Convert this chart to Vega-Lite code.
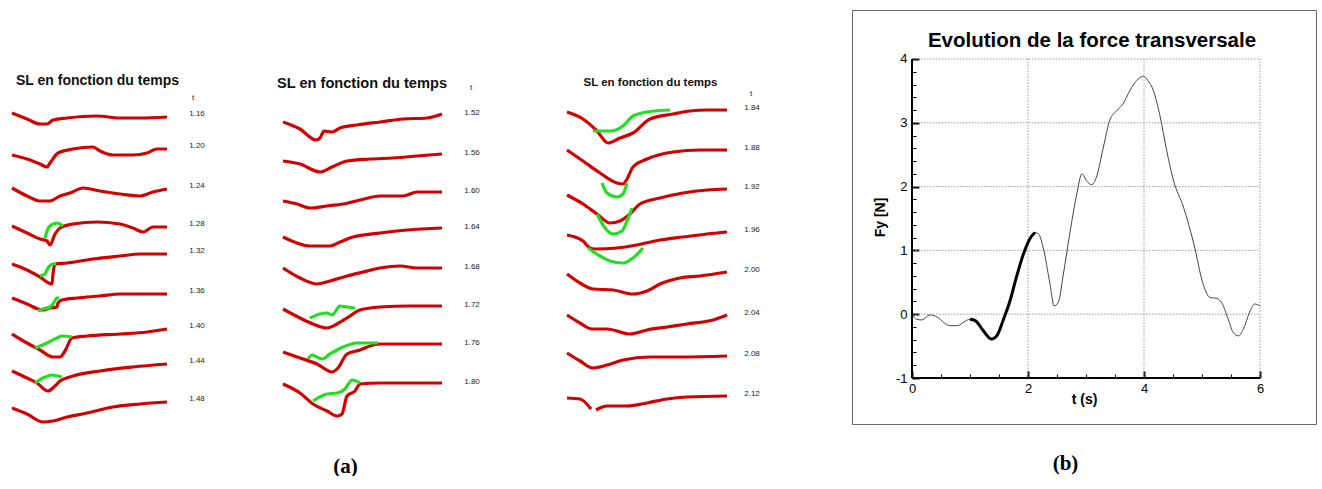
{
"$schema":"https://vega.github.io/schema/vega-lite/v6.json",
"padding":{"left":0,"top":9,"right":0,"bottom":0},
"background":"white",
"config":{"view":{"stroke":null},"font":"Liberation Sans"},
"datasets":{
"sl":[
{"p":1,"t":"1.16","s":"1.16r","c":"r","x":0,"z":112},{"p":1,"t":"1.16","s":"1.16r","c":"r","x":15,"z":118},{"p":1,"t":"1.16","s":"1.16r","c":"r","x":28,"z":123},{"p":1,"t":"1.16","s":"1.16r","c":"r","x":35,"z":123},{"p":1,"t":"1.16","s":"1.16r","c":"r","x":41,"z":119},{"p":1,"t":"1.16","s":"1.16r","c":"r","x":55,"z":117},{"p":1,"t":"1.16","s":"1.16r","c":"r","x":85,"z":115},{"p":1,"t":"1.16","s":"1.16r","c":"r","x":108,"z":117},{"p":1,"t":"1.16","s":"1.16r","c":"r","x":128,"z":117},{"p":1,"t":"1.16","s":"1.16r","c":"r","x":155,"z":116},
{"p":1,"t":"1.20","s":"1.20r","c":"r","x":0,"z":154},{"p":1,"t":"1.20","s":"1.20r","c":"r","x":15,"z":158},{"p":1,"t":"1.20","s":"1.20r","c":"r","x":28,"z":163},{"p":1,"t":"1.20","s":"1.20r","c":"r","x":35,"z":166},{"p":1,"t":"1.20","s":"1.20r","c":"r","x":38,"z":162},{"p":1,"t":"1.20","s":"1.20r","c":"r","x":46,"z":152},{"p":1,"t":"1.20","s":"1.20r","c":"r","x":61,"z":148},{"p":1,"t":"1.20","s":"1.20r","c":"r","x":81,"z":146},{"p":1,"t":"1.20","s":"1.20r","c":"r","x":88,"z":150},{"p":1,"t":"1.20","s":"1.20r","c":"r","x":101,"z":154},{"p":1,"t":"1.20","s":"1.20r","c":"r","x":121,"z":154},{"p":1,"t":"1.20","s":"1.20r","c":"r","x":135,"z":152},{"p":1,"t":"1.20","s":"1.20r","c":"r","x":145,"z":148},{"p":1,"t":"1.20","s":"1.20r","c":"r","x":155,"z":148},
{"p":1,"t":"1.24","s":"1.24r","c":"r","x":0,"z":187},{"p":1,"t":"1.24","s":"1.24r","c":"r","x":15,"z":195},{"p":1,"t":"1.24","s":"1.24r","c":"r","x":28,"z":200},{"p":1,"t":"1.24","s":"1.24r","c":"r","x":38,"z":200},{"p":1,"t":"1.24","s":"1.24r","c":"r","x":48,"z":195},{"p":1,"t":"1.24","s":"1.24r","c":"r","x":58,"z":192},{"p":1,"t":"1.24","s":"1.24r","c":"r","x":71,"z":187},{"p":1,"t":"1.24","s":"1.24r","c":"r","x":88,"z":190},{"p":1,"t":"1.24","s":"1.24r","c":"r","x":108,"z":193},{"p":1,"t":"1.24","s":"1.24r","c":"r","x":128,"z":195},{"p":1,"t":"1.24","s":"1.24r","c":"r","x":141,"z":191},{"p":1,"t":"1.24","s":"1.24r","c":"r","x":155,"z":188},
{"p":1,"t":"1.28","s":"1.28r","c":"r","x":0,"z":225},{"p":1,"t":"1.28","s":"1.28r","c":"r","x":15,"z":232},{"p":1,"t":"1.28","s":"1.28r","c":"r","x":28,"z":238},{"p":1,"t":"1.28","s":"1.28r","c":"r","x":35,"z":240},{"p":1,"t":"1.28","s":"1.28r","c":"r","x":38,"z":244},{"p":1,"t":"1.28","s":"1.28r","c":"r","x":43,"z":233},{"p":1,"t":"1.28","s":"1.28r","c":"r","x":48,"z":227},{"p":1,"t":"1.28","s":"1.28r","c":"r","x":61,"z":223},{"p":1,"t":"1.28","s":"1.28r","c":"r","x":85,"z":221},{"p":1,"t":"1.28","s":"1.28r","c":"r","x":108,"z":223},{"p":1,"t":"1.28","s":"1.28r","c":"r","x":121,"z":227},{"p":1,"t":"1.28","s":"1.28r","c":"r","x":131,"z":231},{"p":1,"t":"1.28","s":"1.28r","c":"r","x":141,"z":226},{"p":1,"t":"1.28","s":"1.28r","c":"r","x":155,"z":226},
{"p":1,"t":"1.28","s":"1.28g","c":"g","x":33,"z":237},{"p":1,"t":"1.28","s":"1.28g","c":"g","x":35,"z":230},{"p":1,"t":"1.28","s":"1.28g","c":"g","x":38,"z":225},{"p":1,"t":"1.28","s":"1.28g","c":"g","x":45,"z":222},{"p":1,"t":"1.28","s":"1.28g","c":"g","x":51,"z":225},
{"p":1,"t":"1.32","s":"1.32r","c":"r","x":0,"z":263},{"p":1,"t":"1.32","s":"1.32r","c":"r","x":15,"z":269},{"p":1,"t":"1.32","s":"1.32r","c":"r","x":28,"z":276},{"p":1,"t":"1.32","s":"1.32r","c":"r","x":40,"z":283},{"p":1,"t":"1.32","s":"1.32r","c":"r","x":41,"z":273},{"p":1,"t":"1.32","s":"1.32r","c":"r","x":43,"z":263},{"p":1,"t":"1.32","s":"1.32r","c":"r","x":55,"z":262},{"p":1,"t":"1.32","s":"1.32r","c":"r","x":81,"z":258},{"p":1,"t":"1.32","s":"1.32r","c":"r","x":108,"z":255},{"p":1,"t":"1.32","s":"1.32r","c":"r","x":128,"z":253},{"p":1,"t":"1.32","s":"1.32r","c":"r","x":155,"z":253},
{"p":1,"t":"1.32","s":"1.32g","c":"g","x":28,"z":275},{"p":1,"t":"1.32","s":"1.32g","c":"g","x":33,"z":273},{"p":1,"t":"1.32","s":"1.32g","c":"g","x":36,"z":267},{"p":1,"t":"1.32","s":"1.32g","c":"g","x":41,"z":263},{"p":1,"t":"1.32","s":"1.32g","c":"g","x":44,"z":263},
{"p":1,"t":"1.36","s":"1.36r","c":"r","x":0,"z":297},{"p":1,"t":"1.36","s":"1.36r","c":"r","x":15,"z":303},{"p":1,"t":"1.36","s":"1.36r","c":"r","x":26,"z":308},{"p":1,"t":"1.36","s":"1.36r","c":"r","x":30,"z":309},{"p":1,"t":"1.36","s":"1.36r","c":"r","x":38,"z":307},{"p":1,"t":"1.36","s":"1.36r","c":"r","x":45,"z":306},{"p":1,"t":"1.36","s":"1.36r","c":"r","x":46,"z":302},{"p":1,"t":"1.36","s":"1.36r","c":"r","x":50,"z":299},{"p":1,"t":"1.36","s":"1.36r","c":"r","x":65,"z":297},{"p":1,"t":"1.36","s":"1.36r","c":"r","x":88,"z":295},{"p":1,"t":"1.36","s":"1.36r","c":"r","x":108,"z":293},{"p":1,"t":"1.36","s":"1.36r","c":"r","x":128,"z":293},{"p":1,"t":"1.36","s":"1.36r","c":"r","x":155,"z":293},
{"p":1,"t":"1.36","s":"1.36g","c":"g","x":26,"z":310},{"p":1,"t":"1.36","s":"1.36g","c":"g","x":31,"z":308},{"p":1,"t":"1.36","s":"1.36g","c":"g","x":38,"z":306},{"p":1,"t":"1.36","s":"1.36g","c":"g","x":41,"z":303},{"p":1,"t":"1.36","s":"1.36g","c":"g","x":45,"z":297},{"p":1,"t":"1.36","s":"1.36g","c":"g","x":47,"z":297},
{"p":1,"t":"1.40","s":"1.40r","c":"r","x":0,"z":333},{"p":1,"t":"1.40","s":"1.40r","c":"r","x":15,"z":342},{"p":1,"t":"1.40","s":"1.40r","c":"r","x":28,"z":349},{"p":1,"t":"1.40","s":"1.40r","c":"r","x":41,"z":356},{"p":1,"t":"1.40","s":"1.40r","c":"r","x":48,"z":356},{"p":1,"t":"1.40","s":"1.40r","c":"r","x":53,"z":350},{"p":1,"t":"1.40","s":"1.40r","c":"r","x":60,"z":337},{"p":1,"t":"1.40","s":"1.40r","c":"r","x":75,"z":335},{"p":1,"t":"1.40","s":"1.40r","c":"r","x":108,"z":333},{"p":1,"t":"1.40","s":"1.40r","c":"r","x":135,"z":331},{"p":1,"t":"1.40","s":"1.40r","c":"r","x":155,"z":328},
{"p":1,"t":"1.40","s":"1.40g","c":"g","x":23,"z":347},{"p":1,"t":"1.40","s":"1.40g","c":"g","x":35,"z":342},{"p":1,"t":"1.40","s":"1.40g","c":"g","x":45,"z":337},{"p":1,"t":"1.40","s":"1.40g","c":"g","x":50,"z":335},{"p":1,"t":"1.40","s":"1.40g","c":"g","x":60,"z":336},
{"p":1,"t":"1.44","s":"1.44r","c":"r","x":0,"z":370},{"p":1,"t":"1.44","s":"1.44r","c":"r","x":15,"z":377},{"p":1,"t":"1.44","s":"1.44r","c":"r","x":25,"z":382},{"p":1,"t":"1.44","s":"1.44r","c":"r","x":36,"z":390},{"p":1,"t":"1.44","s":"1.44r","c":"r","x":43,"z":385},{"p":1,"t":"1.44","s":"1.44r","c":"r","x":48,"z":380},{"p":1,"t":"1.44","s":"1.44r","c":"r","x":61,"z":375},{"p":1,"t":"1.44","s":"1.44r","c":"r","x":88,"z":370},{"p":1,"t":"1.44","s":"1.44r","c":"r","x":121,"z":366},{"p":1,"t":"1.44","s":"1.44r","c":"r","x":155,"z":363},
{"p":1,"t":"1.44","s":"1.44g","c":"g","x":23,"z":382},{"p":1,"t":"1.44","s":"1.44g","c":"g","x":31,"z":377},{"p":1,"t":"1.44","s":"1.44g","c":"g","x":40,"z":374},{"p":1,"t":"1.44","s":"1.44g","c":"g","x":46,"z":375},{"p":1,"t":"1.44","s":"1.44g","c":"g","x":50,"z":376},
{"p":1,"t":"1.48","s":"1.48r","c":"r","x":0,"z":407},{"p":1,"t":"1.48","s":"1.48r","c":"r","x":15,"z":413},{"p":1,"t":"1.48","s":"1.48r","c":"r","x":31,"z":421},{"p":1,"t":"1.48","s":"1.48r","c":"r","x":41,"z":420},{"p":1,"t":"1.48","s":"1.48r","c":"r","x":55,"z":416},{"p":1,"t":"1.48","s":"1.48r","c":"r","x":75,"z":412},{"p":1,"t":"1.48","s":"1.48r","c":"r","x":101,"z":406},{"p":1,"t":"1.48","s":"1.48r","c":"r","x":128,"z":403},{"p":1,"t":"1.48","s":"1.48r","c":"r","x":155,"z":401},
{"p":2,"t":"1.52","s":"1.52r","c":"r","x":0,"z":121},{"p":2,"t":"1.52","s":"1.52r","c":"r","x":17,"z":128},{"p":2,"t":"1.52","s":"1.52r","c":"r","x":33,"z":139},{"p":2,"t":"1.52","s":"1.52r","c":"r","x":37,"z":137},{"p":2,"t":"1.52","s":"1.52r","c":"r","x":41,"z":130},{"p":2,"t":"1.52","s":"1.52r","c":"r","x":49,"z":131},{"p":2,"t":"1.52","s":"1.52r","c":"r","x":57,"z":127},{"p":2,"t":"1.52","s":"1.52r","c":"r","x":74,"z":124},{"p":2,"t":"1.52","s":"1.52r","c":"r","x":97,"z":121},{"p":2,"t":"1.52","s":"1.52r","c":"r","x":120,"z":118},{"p":2,"t":"1.52","s":"1.52r","c":"r","x":144,"z":117},{"p":2,"t":"1.52","s":"1.52r","c":"r","x":159,"z":113},
{"p":2,"t":"1.56","s":"1.56r","c":"r","x":0,"z":160},{"p":2,"t":"1.56","s":"1.56r","c":"r","x":17,"z":163},{"p":2,"t":"1.56","s":"1.56r","c":"r","x":37,"z":171},{"p":2,"t":"1.56","s":"1.56r","c":"r","x":49,"z":166},{"p":2,"t":"1.56","s":"1.56r","c":"r","x":64,"z":160},{"p":2,"t":"1.56","s":"1.56r","c":"r","x":87,"z":158},{"p":2,"t":"1.56","s":"1.56r","c":"r","x":110,"z":157},{"p":2,"t":"1.56","s":"1.56r","c":"r","x":134,"z":155},{"p":2,"t":"1.56","s":"1.56r","c":"r","x":159,"z":153},
{"p":2,"t":"1.60","s":"1.60r","c":"r","x":0,"z":200},{"p":2,"t":"1.60","s":"1.60r","c":"r","x":14,"z":203},{"p":2,"t":"1.60","s":"1.60r","c":"r","x":27,"z":207},{"p":2,"t":"1.60","s":"1.60r","c":"r","x":44,"z":205},{"p":2,"t":"1.60","s":"1.60r","c":"r","x":60,"z":203},{"p":2,"t":"1.60","s":"1.60r","c":"r","x":77,"z":199},{"p":2,"t":"1.60","s":"1.60r","c":"r","x":97,"z":195},{"p":2,"t":"1.60","s":"1.60r","c":"r","x":120,"z":195},{"p":2,"t":"1.60","s":"1.60r","c":"r","x":134,"z":191},{"p":2,"t":"1.60","s":"1.60r","c":"r","x":159,"z":191},
{"p":2,"t":"1.64","s":"1.64r","c":"r","x":0,"z":236},{"p":2,"t":"1.64","s":"1.64r","c":"r","x":14,"z":242},{"p":2,"t":"1.64","s":"1.64r","c":"r","x":27,"z":245},{"p":2,"t":"1.64","s":"1.64r","c":"r","x":47,"z":245},{"p":2,"t":"1.64","s":"1.64r","c":"r","x":57,"z":241},{"p":2,"t":"1.64","s":"1.64r","c":"r","x":70,"z":236},{"p":2,"t":"1.64","s":"1.64r","c":"r","x":97,"z":232},{"p":2,"t":"1.64","s":"1.64r","c":"r","x":124,"z":229},{"p":2,"t":"1.64","s":"1.64r","c":"r","x":159,"z":227},
{"p":2,"t":"1.68","s":"1.68r","c":"r","x":0,"z":267},{"p":2,"t":"1.68","s":"1.68r","c":"r","x":17,"z":277},{"p":2,"t":"1.68","s":"1.68r","c":"r","x":34,"z":283},{"p":2,"t":"1.68","s":"1.68r","c":"r","x":47,"z":280},{"p":2,"t":"1.68","s":"1.68r","c":"r","x":64,"z":275},{"p":2,"t":"1.68","s":"1.68r","c":"r","x":84,"z":270},{"p":2,"t":"1.68","s":"1.68r","c":"r","x":97,"z":267},{"p":2,"t":"1.68","s":"1.68r","c":"r","x":117,"z":265},{"p":2,"t":"1.68","s":"1.68r","c":"r","x":134,"z":267},{"p":2,"t":"1.68","s":"1.68r","c":"r","x":159,"z":267},
{"p":2,"t":"1.72","s":"1.72r","c":"r","x":0,"z":308},{"p":2,"t":"1.72","s":"1.72r","c":"r","x":17,"z":317},{"p":2,"t":"1.72","s":"1.72r","c":"r","x":30,"z":323},{"p":2,"t":"1.72","s":"1.72r","c":"r","x":44,"z":327},{"p":2,"t":"1.72","s":"1.72r","c":"r","x":54,"z":323},{"p":2,"t":"1.72","s":"1.72r","c":"r","x":64,"z":317},{"p":2,"t":"1.72","s":"1.72r","c":"r","x":77,"z":309},{"p":2,"t":"1.72","s":"1.72r","c":"r","x":97,"z":306},{"p":2,"t":"1.72","s":"1.72r","c":"r","x":127,"z":305},{"p":2,"t":"1.72","s":"1.72r","c":"r","x":159,"z":305},
{"p":2,"t":"1.72","s":"1.72g","c":"g","x":27,"z":317},{"p":2,"t":"1.72","s":"1.72g","c":"g","x":37,"z":313},{"p":2,"t":"1.72","s":"1.72g","c":"g","x":44,"z":312},{"p":2,"t":"1.72","s":"1.72g","c":"g","x":49,"z":314},{"p":2,"t":"1.72","s":"1.72g","c":"g","x":57,"z":305},{"p":2,"t":"1.72","s":"1.72g","c":"g","x":64,"z":306},{"p":2,"t":"1.72","s":"1.72g","c":"g","x":72,"z":307},
{"p":2,"t":"1.76","s":"1.76r","c":"r","x":0,"z":351},{"p":2,"t":"1.76","s":"1.76r","c":"r","x":17,"z":357},{"p":2,"t":"1.76","s":"1.76r","c":"r","x":34,"z":363},{"p":2,"t":"1.76","s":"1.76r","c":"r","x":49,"z":371},{"p":2,"t":"1.76","s":"1.76r","c":"r","x":55,"z":367},{"p":2,"t":"1.76","s":"1.76r","c":"r","x":64,"z":353},{"p":2,"t":"1.76","s":"1.76r","c":"r","x":77,"z":349},{"p":2,"t":"1.76","s":"1.76r","c":"r","x":87,"z":345},{"p":2,"t":"1.76","s":"1.76r","c":"r","x":97,"z":343},{"p":2,"t":"1.76","s":"1.76r","c":"r","x":127,"z":343},{"p":2,"t":"1.76","s":"1.76r","c":"r","x":159,"z":343},
{"p":2,"t":"1.76","s":"1.76g","c":"g","x":25,"z":358},{"p":2,"t":"1.76","s":"1.76g","c":"g","x":29,"z":354},{"p":2,"t":"1.76","s":"1.76g","c":"g","x":39,"z":358},{"p":2,"t":"1.76","s":"1.76g","c":"g","x":47,"z":353},{"p":2,"t":"1.76","s":"1.76g","c":"g","x":60,"z":346},{"p":2,"t":"1.76","s":"1.76g","c":"g","x":74,"z":342},{"p":2,"t":"1.76","s":"1.76g","c":"g","x":95,"z":342},
{"p":2,"t":"1.80","s":"1.80r","c":"r","x":0,"z":383},{"p":2,"t":"1.80","s":"1.80r","c":"r","x":17,"z":392},{"p":2,"t":"1.80","s":"1.80r","c":"r","x":30,"z":403},{"p":2,"t":"1.80","s":"1.80r","c":"r","x":44,"z":410},{"p":2,"t":"1.80","s":"1.80r","c":"r","x":54,"z":415},{"p":2,"t":"1.80","s":"1.80r","c":"r","x":59,"z":413},{"p":2,"t":"1.80","s":"1.80r","c":"r","x":64,"z":395},{"p":2,"t":"1.80","s":"1.80r","c":"r","x":72,"z":390},{"p":2,"t":"1.80","s":"1.80r","c":"r","x":77,"z":383},{"p":2,"t":"1.80","s":"1.80r","c":"r","x":97,"z":382},{"p":2,"t":"1.80","s":"1.80r","c":"r","x":127,"z":382},{"p":2,"t":"1.80","s":"1.80r","c":"r","x":159,"z":382},
{"p":2,"t":"1.80","s":"1.80g","c":"g","x":30,"z":400},{"p":2,"t":"1.80","s":"1.80g","c":"g","x":44,"z":393},{"p":2,"t":"1.80","s":"1.80g","c":"g","x":54,"z":392},{"p":2,"t":"1.80","s":"1.80g","c":"g","x":62,"z":388},{"p":2,"t":"1.80","s":"1.80g","c":"g","x":69,"z":379},{"p":2,"t":"1.80","s":"1.80g","c":"g","x":77,"z":382},
{"p":3,"t":"1.84","s":"1.84r","c":"r","x":0,"z":111},{"p":3,"t":"1.84","s":"1.84r","c":"r","x":16,"z":118},{"p":3,"t":"1.84","s":"1.84r","c":"r","x":30,"z":130},{"p":3,"t":"1.84","s":"1.84r","c":"r","x":41,"z":142},{"p":3,"t":"1.84","s":"1.84r","c":"r","x":53,"z":137},{"p":3,"t":"1.84","s":"1.84r","c":"r","x":66,"z":132},{"p":3,"t":"1.84","s":"1.84r","c":"r","x":83,"z":118},{"p":3,"t":"1.84","s":"1.84r","c":"r","x":106,"z":113},{"p":3,"t":"1.84","s":"1.84r","c":"r","x":123,"z":110},{"p":3,"t":"1.84","s":"1.84r","c":"r","x":140,"z":109},{"p":3,"t":"1.84","s":"1.84r","c":"r","x":160,"z":109},
{"p":3,"t":"1.84","s":"1.84g","c":"g","x":26,"z":130},{"p":3,"t":"1.84","s":"1.84g","c":"g","x":43,"z":130},{"p":3,"t":"1.84","s":"1.84g","c":"g","x":56,"z":125},{"p":3,"t":"1.84","s":"1.84g","c":"g","x":66,"z":115},{"p":3,"t":"1.84","s":"1.84g","c":"g","x":80,"z":111},{"p":3,"t":"1.84","s":"1.84g","c":"g","x":103,"z":109},
{"p":3,"t":"1.88","s":"1.88r","c":"r","x":0,"z":149},{"p":3,"t":"1.88","s":"1.88r","c":"r","x":16,"z":160},{"p":3,"t":"1.88","s":"1.88r","c":"r","x":33,"z":172},{"p":3,"t":"1.88","s":"1.88r","c":"r","x":50,"z":182},{"p":3,"t":"1.88","s":"1.88r","c":"r","x":56,"z":183},{"p":3,"t":"1.88","s":"1.88r","c":"r","x":60,"z":178},{"p":3,"t":"1.88","s":"1.88r","c":"r","x":66,"z":166},{"p":3,"t":"1.88","s":"1.88r","c":"r","x":80,"z":158},{"p":3,"t":"1.88","s":"1.88r","c":"r","x":106,"z":151},{"p":3,"t":"1.88","s":"1.88r","c":"r","x":133,"z":149},{"p":3,"t":"1.88","s":"1.88r","c":"r","x":160,"z":149},
{"p":3,"t":"1.88","s":"1.88g","c":"g","x":35,"z":182},{"p":3,"t":"1.88","s":"1.88g","c":"g","x":40,"z":192},{"p":3,"t":"1.88","s":"1.88g","c":"g","x":50,"z":196},{"p":3,"t":"1.88","s":"1.88g","c":"g","x":56,"z":193},{"p":3,"t":"1.88","s":"1.88g","c":"g","x":60,"z":182},
{"p":3,"t":"1.92","s":"1.92r","c":"r","x":0,"z":194},{"p":3,"t":"1.92","s":"1.92r","c":"r","x":16,"z":203},{"p":3,"t":"1.92","s":"1.92r","c":"r","x":30,"z":213},{"p":3,"t":"1.92","s":"1.92r","c":"r","x":43,"z":222},{"p":3,"t":"1.92","s":"1.92r","c":"r","x":53,"z":220},{"p":3,"t":"1.92","s":"1.92r","c":"r","x":63,"z":213},{"p":3,"t":"1.92","s":"1.92r","c":"r","x":73,"z":203},{"p":3,"t":"1.92","s":"1.92r","c":"r","x":93,"z":197},{"p":3,"t":"1.92","s":"1.92r","c":"r","x":116,"z":192},{"p":3,"t":"1.92","s":"1.92r","c":"r","x":140,"z":189},{"p":3,"t":"1.92","s":"1.92r","c":"r","x":160,"z":188},
{"p":3,"t":"1.92","s":"1.92g","c":"g","x":30,"z":213},{"p":3,"t":"1.92","s":"1.92g","c":"g","x":38,"z":227},{"p":3,"t":"1.92","s":"1.92g","c":"g","x":46,"z":233},{"p":3,"t":"1.92","s":"1.92g","c":"g","x":55,"z":230},{"p":3,"t":"1.92","s":"1.92g","c":"g","x":60,"z":220},{"p":3,"t":"1.92","s":"1.92g","c":"g","x":65,"z":207},
{"p":3,"t":"1.96","s":"1.96r","c":"r","x":0,"z":234},{"p":3,"t":"1.96","s":"1.96r","c":"r","x":16,"z":240},{"p":3,"t":"1.96","s":"1.96r","c":"r","x":23,"z":247},{"p":3,"t":"1.96","s":"1.96r","c":"r","x":28,"z":248},{"p":3,"t":"1.96","s":"1.96r","c":"r","x":50,"z":247},{"p":3,"t":"1.96","s":"1.96r","c":"r","x":70,"z":244},{"p":3,"t":"1.96","s":"1.96r","c":"r","x":93,"z":239},{"p":3,"t":"1.96","s":"1.96r","c":"r","x":116,"z":236},{"p":3,"t":"1.96","s":"1.96r","c":"r","x":140,"z":233},{"p":3,"t":"1.96","s":"1.96r","c":"r","x":160,"z":231},
{"p":3,"t":"1.96","s":"1.96g","c":"g","x":21,"z":247},{"p":3,"t":"1.96","s":"1.96g","c":"g","x":33,"z":255},{"p":3,"t":"1.96","s":"1.96g","c":"g","x":43,"z":260},{"p":3,"t":"1.96","s":"1.96g","c":"g","x":56,"z":262},{"p":3,"t":"1.96","s":"1.96g","c":"g","x":66,"z":257},{"p":3,"t":"1.96","s":"1.96g","c":"g","x":76,"z":247},
{"p":3,"t":"2.00","s":"2.00r","c":"r","x":0,"z":273},{"p":3,"t":"2.00","s":"2.00r","c":"r","x":13,"z":282},{"p":3,"t":"2.00","s":"2.00r","c":"r","x":26,"z":288},{"p":3,"t":"2.00","s":"2.00r","c":"r","x":46,"z":289},{"p":3,"t":"2.00","s":"2.00r","c":"r","x":66,"z":293},{"p":3,"t":"2.00","s":"2.00r","c":"r","x":80,"z":290},{"p":3,"t":"2.00","s":"2.00r","c":"r","x":93,"z":283},{"p":3,"t":"2.00","s":"2.00r","c":"r","x":113,"z":277},{"p":3,"t":"2.00","s":"2.00r","c":"r","x":133,"z":275},{"p":3,"t":"2.00","s":"2.00r","c":"r","x":160,"z":271},
{"p":3,"t":"2.04","s":"2.04r","c":"r","x":0,"z":314},{"p":3,"t":"2.04","s":"2.04r","c":"r","x":13,"z":322},{"p":3,"t":"2.04","s":"2.04r","c":"r","x":25,"z":328},{"p":3,"t":"2.04","s":"2.04r","c":"r","x":40,"z":328},{"p":3,"t":"2.04","s":"2.04r","c":"r","x":63,"z":333},{"p":3,"t":"2.04","s":"2.04r","c":"r","x":80,"z":329},{"p":3,"t":"2.04","s":"2.04r","c":"r","x":100,"z":326},{"p":3,"t":"2.04","s":"2.04r","c":"r","x":120,"z":323},{"p":3,"t":"2.04","s":"2.04r","c":"r","x":146,"z":319},{"p":3,"t":"2.04","s":"2.04r","c":"r","x":160,"z":314},
{"p":3,"t":"2.08","s":"2.08r","c":"r","x":0,"z":352},{"p":3,"t":"2.08","s":"2.08r","c":"r","x":13,"z":360},{"p":3,"t":"2.08","s":"2.08r","c":"r","x":26,"z":367},{"p":3,"t":"2.08","s":"2.08r","c":"r","x":40,"z":364},{"p":3,"t":"2.08","s":"2.08r","c":"r","x":56,"z":359},{"p":3,"t":"2.08","s":"2.08r","c":"r","x":83,"z":356},{"p":3,"t":"2.08","s":"2.08r","c":"r","x":113,"z":356},{"p":3,"t":"2.08","s":"2.08r","c":"r","x":160,"z":355},
{"p":3,"t":"2.12","s":"2.12a","c":"r","x":0,"z":397},{"p":3,"t":"2.12","s":"2.12a","c":"r","x":13,"z":398},{"p":3,"t":"2.12","s":"2.12a","c":"r","x":24,"z":408},
{"p":3,"t":"2.12","s":"2.12b","c":"r","x":29,"z":409},{"p":3,"t":"2.12","s":"2.12b","c":"r","x":40,"z":405},{"p":3,"t":"2.12","s":"2.12b","c":"r","x":60,"z":405},{"p":3,"t":"2.12","s":"2.12b","c":"r","x":80,"z":402},{"p":3,"t":"2.12","s":"2.12b","c":"r","x":100,"z":398},{"p":3,"t":"2.12","s":"2.12b","c":"r","x":120,"z":396},{"p":3,"t":"2.12","s":"2.12b","c":"r","x":160,"z":395}
],
"fy":[
{"t":0,"fy":0},{"t":0.08,"fy":-0.08},{"t":0.17,"fy":-0.09},{"t":0.31,"fy":-0.01},{"t":0.4,"fy":-0.03},{"t":0.66,"fy":-0.18},{"t":0.77,"fy":-0.18},{"t":1.0,"fy":-0.08},{"t":1.09,"fy":-0.1},{"t":1.23,"fy":-0.26},{"t":1.37,"fy":-0.39},{"t":1.46,"fy":-0.34},{"t":1.57,"fy":-0.1},{"t":1.69,"fy":0.21},{"t":1.8,"fy":0.58},{"t":1.92,"fy":0.94},{"t":2.03,"fy":1.18},{"t":2.12,"fy":1.28},{"t":2.18,"fy":1.26},{"t":2.26,"fy":1.05},{"t":2.38,"fy":0.47},{"t":2.45,"fy":0.13},{"t":2.52,"fy":0.18},{"t":2.61,"fy":0.63},{"t":2.72,"fy":1.26},{"t":2.84,"fy":1.88},{"t":2.93,"fy":2.2},{"t":3.01,"fy":2.09},{"t":3.1,"fy":2.03},{"t":3.18,"fy":2.15},{"t":3.3,"fy":2.62},{"t":3.41,"fy":3.04},{"t":3.53,"fy":3.19},{"t":3.64,"fy":3.3},{"t":3.76,"fy":3.51},{"t":3.87,"fy":3.66},{"t":3.99,"fy":3.73},{"t":4.07,"fy":3.66},{"t":4.16,"fy":3.51},{"t":4.28,"fy":3.09},{"t":4.39,"fy":2.57},{"t":4.51,"fy":2.09},{"t":4.68,"fy":1.68},{"t":4.86,"fy":1.1},{"t":5.02,"fy":0.47},{"t":5.14,"fy":0.26},{"t":5.25,"fy":0.25},{"t":5.34,"fy":0.18},{"t":5.46,"fy":-0.1},{"t":5.54,"fy":-0.29},{"t":5.63,"fy":-0.34},{"t":5.71,"fy":-0.24},{"t":5.83,"fy":0.05},{"t":5.91,"fy":0.16},{"t":6.0,"fy":0.13}
],
"gx":[{"v":2},{"v":4},{"v":6}],
"gy":[{"v":0},{"v":1},{"v":2},{"v":3},{"v":4}],
"one":[{"k":1}]
},
"spacing":0,
"bounds":"flush",
"hconcat":[
{
"width":283,"height":414,
"data":{"name":"sl"},
"transform":[{"filter":"datum.p==1"}],
"title":{"text":"SL en fonction du temps","font":"Liberation Sans","fontSize":14,"fontWeight":"bold","color":"#111","anchor":"middle","dx":-44,"offset":-85,"baseline":"middle"},
"layer":[
{"transform":[{"filter":"datum.c=='r'"}],"mark":{"type":"line","color":"#d40000","strokeWidth":3.2,"strokeJoin":"round","interpolate":"monotone"},
"encoding":{"x":{"field":"x","type":"quantitative","scale":{"domain":[-12,271],"nice":false,"zero":false},"axis":null},"y":{"field":"z","type":"quantitative","scale":{"domain":[9,423],"nice":false,"zero":false,"reverse":true},"axis":null},"detail":{"field":"s"}}},
{"transform":[{"filter":"datum.c=='g'"}],"mark":{"type":"line","color":"#22dd22","strokeWidth":3.2,"strokeJoin":"round","interpolate":"monotone"},
"encoding":{"x":{"field":"x","type":"quantitative","scale":{"domain":[-12,271],"nice":false,"zero":false},"axis":null},"y":{"field":"z","type":"quantitative","scale":{"domain":[9,423],"nice":false,"zero":false,"reverse":true},"axis":null},"detail":{"field":"s"}}},
{"transform":[{"filter":"datum.c=='r'"},{"aggregate":[{"op":"argmax","field":"x","as":"last"}],"groupby":["t"]}],
"mark":{"type":"text","dx":30,"dy":-3,"fontSize":8,"font":"Liberation Sans","color":"#222"},
"encoding":{"x":{"field":"last.x","type":"quantitative","scale":{"domain":[-12,271],"nice":false,"zero":false},"axis":null},"y":{"field":"last.z","type":"quantitative","scale":{"domain":[9,423],"nice":false,"zero":false,"reverse":true},"axis":null},"text":{"field":"t"}}},
{"transform":[{"filter":"datum.c=='r' && datum.t=='1.16'"},{"aggregate":[{"op":"argmax","field":"x","as":"last"}],"groupby":["t"]}],
"mark":{"type":"text","text":"t","dx":26,"dy":-19,"fontSize":8,"font":"Liberation Sans","color":"#222"},
"encoding":{"x":{"field":"last.x","type":"quantitative","scale":{"domain":[-12,271],"nice":false,"zero":false},"axis":null},"y":{"field":"last.z","type":"quantitative","scale":{"domain":[9,423],"nice":false,"zero":false,"reverse":true},"axis":null}}}
]
},
{
"width":284,"height":414,
"data":{"name":"sl"},
"transform":[{"filter":"datum.p==2"}],
"title":{"text":"SL en fonction du temps","font":"Liberation Sans","fontSize":14.6,"fontWeight":"bold","color":"#111","anchor":"middle","dx":-63,"offset":-89,"baseline":"middle"},
"layer":[
{"transform":[{"filter":"datum.c=='r'"}],"mark":{"type":"line","color":"#d40000","strokeWidth":3.2,"strokeJoin":"round","interpolate":"monotone"},
"encoding":{"x":{"field":"x","type":"quantitative","scale":{"domain":[0,284],"nice":false,"zero":false},"axis":{"orient":"bottom","domain":false,"ticks":false,"labels":false,"grid":false,"title":"(a)","titleFont":"Liberation Serif","titleFontSize":21,"titleFontWeight":"bold","titleColor":"black","titleX":62,"titleY":42,"titleAlign":"center","titleBaseline":"middle"}},"y":{"field":"z","type":"quantitative","scale":{"domain":[9,423],"nice":false,"zero":false,"reverse":true},"axis":null},"detail":{"field":"s"}}},
{"transform":[{"filter":"datum.c=='g'"}],"mark":{"type":"line","color":"#22dd22","strokeWidth":3.2,"strokeJoin":"round","interpolate":"monotone"},
"encoding":{"x":{"field":"x","type":"quantitative","scale":{"domain":[0,284],"nice":false,"zero":false},"axis":{"orient":"bottom","domain":false,"ticks":false,"labels":false,"grid":false,"title":"(a)","titleFont":"Liberation Serif","titleFontSize":21,"titleFontWeight":"bold","titleColor":"black","titleX":62,"titleY":42,"titleAlign":"center","titleBaseline":"middle"}},"y":{"field":"z","type":"quantitative","scale":{"domain":[9,423],"nice":false,"zero":false,"reverse":true},"axis":null},"detail":{"field":"s"}}},
{"transform":[{"filter":"datum.c=='r'"},{"aggregate":[{"op":"argmax","field":"x","as":"last"}],"groupby":["t"]}],
"mark":{"type":"text","dx":30,"dy":-1,"fontSize":8,"font":"Liberation Sans","color":"#222"},
"encoding":{"x":{"field":"last.x","type":"quantitative","scale":{"domain":[0,284],"nice":false,"zero":false},"axis":{"orient":"bottom","domain":false,"ticks":false,"labels":false,"grid":false,"title":"(a)","titleFont":"Liberation Serif","titleFontSize":21,"titleFontWeight":"bold","titleColor":"black","titleX":62,"titleY":42,"titleAlign":"center","titleBaseline":"middle"}},"y":{"field":"last.z","type":"quantitative","scale":{"domain":[9,423],"nice":false,"zero":false,"reverse":true},"axis":null},"text":{"field":"t"}}},
{"transform":[{"filter":"datum.c=='r' && datum.t=='1.52'"},{"aggregate":[{"op":"argmax","field":"x","as":"last"}],"groupby":["t"]}],
"mark":{"type":"text","text":"t","dx":29,"dy":-26,"fontSize":8,"font":"Liberation Sans","color":"#222"},
"encoding":{"x":{"field":"last.x","type":"quantitative","scale":{"domain":[0,284],"nice":false,"zero":false},"axis":{"orient":"bottom","domain":false,"ticks":false,"labels":false,"grid":false,"title":"(a)","titleFont":"Liberation Serif","titleFontSize":21,"titleFontWeight":"bold","titleColor":"black","titleX":62,"titleY":42,"titleAlign":"center","titleBaseline":"middle"}},"y":{"field":"last.z","type":"quantitative","scale":{"domain":[9,423],"nice":false,"zero":false,"reverse":true},"axis":null}}}
]
},
{
"width":285,"height":414,
"data":{"name":"sl"},
"transform":[{"filter":"datum.p==3"}],
"title":{"text":"SL en fonction du temps","font":"Liberation Sans","fontSize":11.5,"fontWeight":"bold","color":"#111","anchor":"middle","dx":-59,"offset":-84,"baseline":"middle"},
"layer":[
{"transform":[{"filter":"datum.c=='r'"}],"mark":{"type":"line","color":"#d40000","strokeWidth":3.2,"strokeJoin":"round","interpolate":"monotone"},
"encoding":{"x":{"field":"x","type":"quantitative","scale":{"domain":[0,285],"nice":false,"zero":false},"axis":null},"y":{"field":"z","type":"quantitative","scale":{"domain":[9,423],"nice":false,"zero":false,"reverse":true},"axis":null},"detail":{"field":"s"}}},
{"transform":[{"filter":"datum.c=='g'"}],"mark":{"type":"line","color":"#22dd22","strokeWidth":3.2,"strokeJoin":"round","interpolate":"monotone"},
"encoding":{"x":{"field":"x","type":"quantitative","scale":{"domain":[0,285],"nice":false,"zero":false},"axis":null},"y":{"field":"z","type":"quantitative","scale":{"domain":[9,423],"nice":false,"zero":false,"reverse":true},"axis":null},"detail":{"field":"s"}}},
{"transform":[{"filter":"datum.c=='r'"},{"aggregate":[{"op":"argmax","field":"x","as":"last"}],"groupby":["t"]}],
"mark":{"type":"text","dx":25,"dy":-2,"fontSize":8,"font":"Liberation Sans","color":"#222"},
"encoding":{"x":{"field":"last.x","type":"quantitative","scale":{"domain":[0,285],"nice":false,"zero":false},"axis":null},"y":{"field":"last.z","type":"quantitative","scale":{"domain":[9,423],"nice":false,"zero":false,"reverse":true},"axis":null},"text":{"field":"t"}}},
{"transform":[{"filter":"datum.c=='r' && datum.t=='1.84'"},{"aggregate":[{"op":"argmax","field":"x","as":"last"}],"groupby":["t"]}],
"mark":{"type":"text","text":"t","dx":24,"dy":-16,"fontSize":8,"font":"Liberation Sans","color":"#222"},
"encoding":{"x":{"field":"last.x","type":"quantitative","scale":{"domain":[0,285],"nice":false,"zero":false},"axis":null},"y":{"field":"last.z","type":"quantitative","scale":{"domain":[9,423],"nice":false,"zero":false,"reverse":true},"axis":null}}}
]
},
{
"width":464,"height":414,
"view":{"stroke":"#666","strokeWidth":1},
"title":{"text":"Evolution de la force transversale","font":"Liberation Sans","fontSize":20.5,"fontWeight":"bold","color":"black","anchor":"middle","dx":8,"offset":-51,"baseline":"middle"},
"resolve":{"axis":{"x":"independent","y":"independent"}},
"layer":[
{"data":{"name":"gx"},"mark":{"type":"rule","color":"#9a9a9a","strokeWidth":1,"strokeDash":[1.5,1.5]},
"encoding":{"x":{"field":"v","type":"quantitative","scale":{"domain":[-1.0345,6.9655],"nice":false,"zero":false},"axis":{"orient":"bottom","domain":false,"ticks":false,"labels":false,"grid":false,"title":"(b)","titleFont":"Liberation Serif","titleFontSize":21,"titleFontWeight":"bold","titleColor":"black","titleX":213,"titleY":39,"titleAlign":"center","titleBaseline":"middle"}},"y":{"datum":-1,"type":"quantitative","scale":{"domain":[-1.721,4.768],"nice":false,"zero":false},"axis":null},"y2":{"datum":4}}},
{"data":{"name":"gy"},"mark":{"type":"rule","color":"#9a9a9a","strokeWidth":1,"strokeDash":[1.5,1.5]},
"encoding":{"y":{"field":"v","type":"quantitative","scale":{"domain":[-1.721,4.768],"nice":false,"zero":false},"axis":null},"x":{"datum":0,"type":"quantitative","scale":{"domain":[-1.0345,6.9655],"nice":false,"zero":false},"axis":null},"x2":{"datum":6}}},
{"data":{"name":"fy"},"mark":{"type":"line","color":"#444","strokeWidth":1,"interpolate":"monotone"},
"encoding":{"x":{"field":"t","type":"quantitative","scale":{"domain":[-1.0345,6.9655],"nice":false,"zero":false},
"axis":{"orient":"bottom","values":[0,2,4,6],"offset":-46,"domain":false,"grid":false,"ticks":true,"tickSize":-7,"tickWidth":2,"tickColor":"black","labelFontSize":13,"labelColor":"black","labelFont":"Liberation Sans","labelPadding":11,"title":"t (s)","titleFont":"Liberation Sans","titleFontSize":14,"titleFontWeight":"bold","titleColor":"black","titleY":21,"titleBaseline":"middle"}},
"y":{"field":"fy","type":"quantitative","scale":{"domain":[-1.721,4.768],"nice":false,"zero":false},
"axis":{"orient":"left","values":[-1,0,1,2,3,4],"offset":-60,"domain":false,"grid":false,"ticks":true,"tickSize":-7,"tickWidth":2,"tickColor":"black","labelFontSize":13,"labelColor":"black","labelFont":"Liberation Sans","labelPadding":12,"labelExpr":"datum.value < 0 ? '-' + format(abs(datum.value), 'd') : datum.label","title":"Fy [N]","titleFont":"Liberation Sans","titleFontSize":14,"titleFontWeight":"bold","titleColor":"black","titlePadding":8}}}},
{"data":{"name":"fy"},"transform":[{"filter":"datum.t >= 1 && datum.t <= 2.13"}],"mark":{"type":"line","color":"black","strokeWidth":3,"interpolate":"monotone"},
"encoding":{"x":{"field":"t","type":"quantitative","scale":{"domain":[-1.0345,6.9655],"nice":false,"zero":false},
"axis":{"orient":"bottom","values":[0.5,1,1.5,2.5,3,3.5,4.5,5,5.5],"offset":-46,"domain":false,"grid":false,"tickSize":-4,"tickWidth":1,"tickColor":"black","labels":false,"title":null}},
"y":{"field":"fy","type":"quantitative","scale":{"domain":[-1.721,4.768],"nice":false,"zero":false},
"axis":{"orient":"left","values":[-0.8,-0.6,-0.4,-0.2,0.2,0.4,0.6,0.8,1.2,1.4,1.6,1.8,2.2,2.4,2.6,2.8,3.2,3.4,3.6,3.8],"offset":-60,"domain":false,"grid":false,"tickSize":-4,"tickWidth":1,"tickColor":"black","labels":false,"title":null}}}},
{"data":{"name":"one"},"mark":{"type":"rule","color":"black","strokeWidth":2},
"encoding":{"x":{"datum":0,"type":"quantitative","scale":{"domain":[-1.0345,6.9655],"nice":false,"zero":false},"axis":null},"y":{"datum":-1,"type":"quantitative","scale":{"domain":[-1.721,4.768],"nice":false,"zero":false},"axis":null},"y2":{"datum":4}}},
{"data":{"name":"one"},"mark":{"type":"rule","color":"black","strokeWidth":2},
"encoding":{"y":{"datum":-1,"type":"quantitative","scale":{"domain":[-1.721,4.768],"nice":false,"zero":false},"axis":null},"x":{"datum":0,"type":"quantitative","scale":{"domain":[-1.0345,6.9655],"nice":false,"zero":false},"axis":null},"x2":{"datum":6}}}
]
}
]
}
